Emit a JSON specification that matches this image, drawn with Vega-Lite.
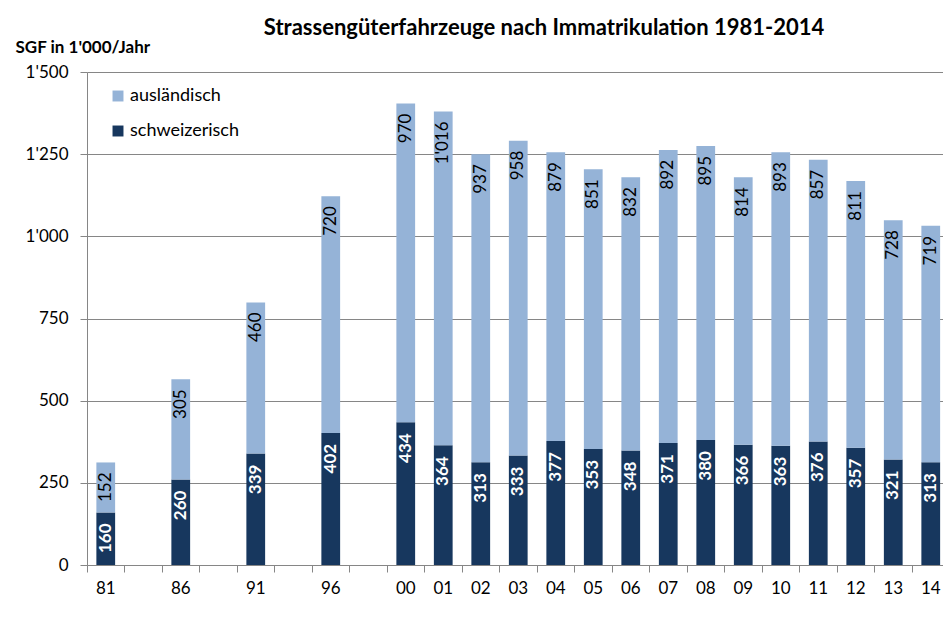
{
  "$schema": "https://vega.github.io/schema/vega-lite/v6.json",
  "width": 856,
  "height": 493,
  "autosize": {"type": "none"},
  "padding": {"left": 87, "top": 72, "right": 0, "bottom": 52},
  "background": "white",
  "config": {
    "font": "Lato",
    "view": {"stroke": null},
    "locale": {"number": {"decimal": ".", "thousands": "'", "grouping": [3], "currency": ["", ""]}}
  },
  "title": {
    "text": "Strassengüterfahrzeuge nach Immatrikulation 1981-2014",
    "fontSize": 22,
    "fontWeight": "bold",
    "color": "#000000",
    "anchor": "middle",
    "frame": "group",
    "dx": 29,
    "offset": -2
  },
  "data": {
    "values": [
      {"year": "81", "series": "schweizerisch", "value": 160},
      {"year": "81", "series": "ausländisch", "value": 152},
      {"year": "86", "series": "schweizerisch", "value": 260},
      {"year": "86", "series": "ausländisch", "value": 305},
      {"year": "91", "series": "schweizerisch", "value": 339},
      {"year": "91", "series": "ausländisch", "value": 460},
      {"year": "96", "series": "schweizerisch", "value": 402},
      {"year": "96", "series": "ausländisch", "value": 720},
      {"year": "00", "series": "schweizerisch", "value": 434},
      {"year": "00", "series": "ausländisch", "value": 970},
      {"year": "01", "series": "schweizerisch", "value": 364},
      {"year": "01", "series": "ausländisch", "value": 1016},
      {"year": "02", "series": "schweizerisch", "value": 313},
      {"year": "02", "series": "ausländisch", "value": 937},
      {"year": "03", "series": "schweizerisch", "value": 333},
      {"year": "03", "series": "ausländisch", "value": 958},
      {"year": "04", "series": "schweizerisch", "value": 377},
      {"year": "04", "series": "ausländisch", "value": 879},
      {"year": "05", "series": "schweizerisch", "value": 353},
      {"year": "05", "series": "ausländisch", "value": 851},
      {"year": "06", "series": "schweizerisch", "value": 348},
      {"year": "06", "series": "ausländisch", "value": 832},
      {"year": "07", "series": "schweizerisch", "value": 371},
      {"year": "07", "series": "ausländisch", "value": 892},
      {"year": "08", "series": "schweizerisch", "value": 380},
      {"year": "08", "series": "ausländisch", "value": 895},
      {"year": "09", "series": "schweizerisch", "value": 366},
      {"year": "09", "series": "ausländisch", "value": 814},
      {"year": "10", "series": "schweizerisch", "value": 363},
      {"year": "10", "series": "ausländisch", "value": 893},
      {"year": "11", "series": "schweizerisch", "value": 376},
      {"year": "11", "series": "ausländisch", "value": 857},
      {"year": "12", "series": "schweizerisch", "value": 357},
      {"year": "12", "series": "ausländisch", "value": 811},
      {"year": "13", "series": "schweizerisch", "value": 321},
      {"year": "13", "series": "ausländisch", "value": 728},
      {"year": "14", "series": "schweizerisch", "value": 313},
      {"year": "14", "series": "ausländisch", "value": 719}
    ]
  },
  "transform": [
    {"stack": "value", "groupby": ["year"], "sort": [{"field": "series", "order": "descending"}], "as": ["v0", "v1"]}
  ],
  "encoding": {
    "x": {
      "field": "year",
      "type": "nominal",
      "sort": null,
      "scale": {
        "domain": ["81", "g1", "86", "g2", "91", "g3", "96", "g4", "00", "01", "02", "03", "04", "05", "06", "07", "08", "09", "10", "11", "12", "13", "14"],
        "range": [0, 862.5],
        "paddingInner": 0,
        "paddingOuter": 0
      },
      "axis": {
        "title": null,
        "labelAngle": 0,
        "labelFontSize": 17,
        "labelColor": "#000000",
        "labelExpr": "indexof(datum.label, 'g') === 0 ? '' : datum.label",
        "bandPosition": 0,
        "labelOffset": 0,
        "labelPadding": 8,
        "tickSize": 7,
        "tickColor": "#868686",
        "domainColor": "#868686",
        "grid": false
      }
    },
    "y": {
      "field": "v1",
      "type": "quantitative",
      "scale": {"domain": [0, 1500], "nice": false},
      "axis": {
        "title": "SGF in 1'000/Jahr",
        "titleAngle": 0,
        "titleAlign": "left",
        "titleBaseline": "middle",
        "titleX": -72,
        "titleY": -25,
        "titleFontSize": 17,
        "titleFontWeight": "bold",
        "titleColor": "#000000",
        "values": [0, 250, 500, 750, 1000, 1250, 1500],
        "format": ",d",
        "labelFontSize": 17,
        "labelColor": "#000000",
        "labelPadding": 12,
        "tickSize": 7,
        "tickColor": "#868686",
        "domainColor": "#868686",
        "gridColor": "#868686"
      }
    }
  },
  "layer": [
    {
      "mark": {"type": "bar", "width": {"band": 0.5}},
      "encoding": {
        "y2": {"field": "v0"},
        "color": {
          "field": "series",
          "type": "nominal",
          "scale": {"domain": ["ausländisch", "schweizerisch"], "range": ["#95B3D7", "#17375E"]},
          "legend": {
            "title": null,
            "orient": "none",
            "legendX": 22,
            "legendY": 15,
            "symbolType": "square",
            "symbolSize": 120,
            "symbolStrokeWidth": 0,
            "labelFontSize": 18,
            "labelColor": "#000000",
            "labelOffset": 3,
            "rowPadding": 17
          }
        }
      }
    },
    {
      "transform": [{"filter": "datum.series === 'schweizerisch'"}],
      "mark": {"type": "text", "angle": 270, "align": "right", "baseline": "middle", "dx": -11, "fontSize": 17, "fontWeight": "bold", "color": "#FFFFFF"},
      "encoding": {"text": {"field": "value", "type": "quantitative", "format": ","}}
    },
    {
      "transform": [{"filter": "datum.series === 'ausländisch'"}],
      "mark": {"type": "text", "angle": 270, "align": "right", "baseline": "middle", "dx": -10, "fontSize": 17, "color": "#000000"},
      "encoding": {"text": {"field": "value", "type": "quantitative", "format": ","}}
    }
  ]
}
